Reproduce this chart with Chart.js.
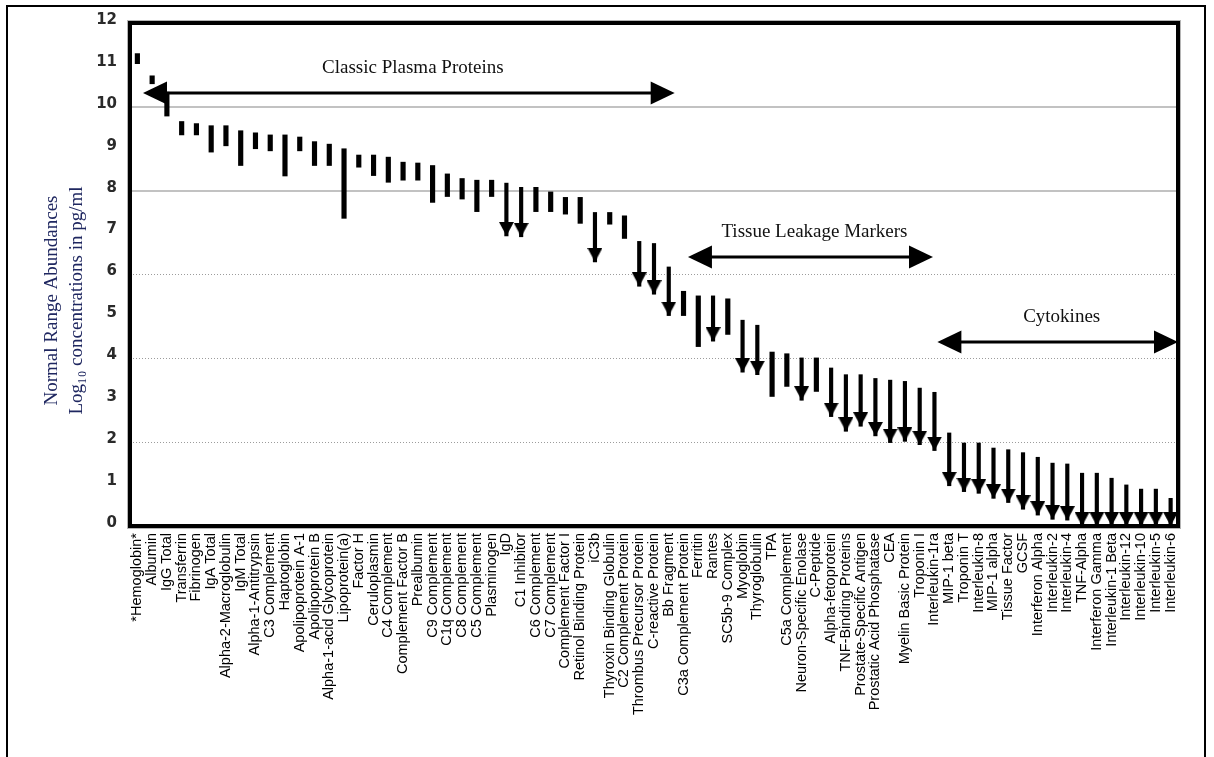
<!DOCTYPE html>
<html>
<head>
<meta charset="utf-8">
<title>Normal range abundances of plasma proteins</title>
<script src="https://cdn.jsdelivr.net/npm/chart.js@4.4.1/dist/chart.umd.min.js"></script>
<style>
  html, body { margin: 0; padding: 0; background: #fff; }
  #wrap { position: relative; width: 1214px; height: 757px; overflow: hidden; }
  #frame { position: absolute; left: 6px; top: 5px; width: 1200px; height: 770px;
           border: 2px solid #000; box-sizing: border-box; pointer-events: none; }
  canvas { display: block; }
</style>
</head>
<body>
<div id="wrap">
  <canvas id="chart" width="1214" height="757"></canvas>
  <div id="frame"></div>
</div>
<script>
// Analytes, ordered by decreasing normal-range abundance
const categories = [
  '*Hemoglobin*', 'Albumin', 'IgG Total', 'Transferrin', 'Fibrinogen', 'IgA Total',
  'Alpha-2-Macroglobulin', 'IgM Total', 'Alpha-1-Antitrypsin', 'C3 Complement', 'Haptoglobin',
  'Apolipoprotein A-1', 'Apolipoprotein B', 'Alpha-1-acid Glycoprotein', 'Lipoprotein(a)',
  'Factor H', 'Ceruloplasmin', 'C4 Complement', 'Complement Factor B', 'Prealbumin',
  'C9 Complement', 'C1q Complement', 'C8 Complement', 'C5 Complement', 'Plasminogen', 'IgD',
  'C1 Inhibitor', 'C6 Complement', 'C7 Complement', 'Complement Factor I',
  'Retinol Binding Protein', 'iC3b', 'Thyroxin Binding Globulin', 'C2 Complement Protein',
  'Thrombus Precursor Protein', 'C-reactive Protein', 'Bb Fragment', 'C3a Complement Protein',
  'Ferritin', 'Rantes', 'SC5b-9 Complex', 'Myoglobin', 'Thyroglobulin', 'TPA',
  'C5a Complement', 'Neuron-Specific Enolase', 'C-Peptide', 'Alpha-fetoprotein',
  'TNF-Binding Proteins', 'Prostate-Specific Antigen', 'Prostatic Acid Phosphatase', 'CEA',
  'Myelin Basic Protein', 'Troponin I', 'Interleukin-1ra', 'MIP-1 beta', 'Troponin T',
  'Interleukin-8', 'MIP-1 alpha', 'Tissue Factor', 'GCSF', 'Interferon Alpha',
  'Interleukin-2', 'Interleukin-4', 'TNF-Alpha', 'Interferon Gamma', 'Interleukin-1 Beta',
  'Interleukin-12', 'Interleukin-10', 'Interleukin-5', 'Interleukin-6'
];

// Upper end of the normal range, log10 pg/ml
const upper = [
  11.27, 10.74, 10.35, 9.65, 9.60, 9.55, 9.55, 9.43, 9.38, 9.33, 9.33,
  9.28, 9.17, 9.11, 9.00, 8.85, 8.85, 8.80, 8.68, 8.66,
  8.60, 8.40, 8.29, 8.25, 8.25, 8.18, 8.08, 8.08, 7.97, 7.84,
  7.84, 7.48, 7.48, 7.40, 6.79, 6.74, 6.18, 5.60,
  5.49, 5.49, 5.42, 4.91, 4.79, 4.15, 4.11, 4.01, 4.01, 3.77,
  3.61, 3.61, 3.52, 3.48, 3.45, 3.29, 3.19, 2.22, 1.98,
  1.98, 1.86, 1.82, 1.75, 1.64, 1.50, 1.48, 1.26, 1.26, 1.14,
  0.98, 0.88, 0.88, 0.66
];

// Lower end of the normal range, log10 pg/ml
const lower = [
  11.03, 10.55, 9.78, 9.33, 9.33, 8.92, 9.07, 8.60, 9.00, 8.95, 8.35,
  8.95, 8.60, 8.60, 7.34, 8.56, 8.36, 8.20, 8.25, 8.25,
  7.72, 7.86, 7.80, 7.50, 7.86, 6.92, 6.90, 7.50, 7.50, 7.44,
  7.22, 6.30, 7.20, 6.86, 5.72, 5.53, 5.02, 5.02,
  4.28, 4.41, 4.57, 3.67, 3.61, 3.09, 3.33, 3.00, 3.21, 2.61,
  2.26, 2.38, 2.15, 1.99, 2.02, 1.94, 1.80, 0.96, 0.82,
  0.78, 0.66, 0.56, 0.40, 0.26, 0.16, 0.14, 0.00, 0.00, 0.00,
  0.00, 0.00, 0.00, 0.00
];

// 1 = range continues below the lower value (drawn with a downward arrow)
const openBelow = [
  0, 0, 0, 0, 0, 0, 0, 0, 0, 0, 0,
  0, 0, 0, 0, 0, 0, 0, 0, 0,
  0, 0, 0, 0, 0, 1, 1, 0, 0, 0,
  0, 1, 0, 0, 1, 1, 1, 0,
  0, 1, 0, 1, 1, 0, 0, 1, 0, 1,
  1, 1, 1, 1, 1, 1, 1, 1, 1,
  1, 1, 1, 1, 1, 1, 1, 1, 1, 1,
  1, 1, 1, 1
];

// Analyte groups: span along the category axis and level of the bracket arrow
const groupNames = ['Classic Plasma Proteins', 'Tissue Leakage Markers', 'Cytokines'];
const groupStart = [0.38, 37.3, 54.2];
const groupEnd = [36.4, 53.9, 70.5];
const groupLevel = [10.33, 6.42, 4.39];

const yTitle = ['Normal Range Abundances', 'Log\u2081\u2080 concentrations in pg/ml'];

const closedRanges = categories.map((_, i) => openBelow[i] ? null : [lower[i], upper[i]]);
const openRanges = categories.map((_, i) => openBelow[i] ? [lower[i], upper[i]] : null);
const arrowTips = categories.map((_, i) => openBelow[i] ? lower[i] : null);

// Downward arrowhead whose tip sits at the centre of the image
function arrowHead(w, h) {
  const c = document.createElement('canvas');
  c.width = w;
  c.height = h * 2;
  const g = c.getContext('2d');
  g.fillStyle = '#000';
  g.beginPath();
  g.moveTo(0, 0);
  g.lineTo(w, 0);
  g.lineTo(w / 2, h);
  g.closePath();
  g.fill();
  return c;
}

const serif = '"Liberation Serif", "Times New Roman", serif';

const groupBrackets = {
  id: 'groupBrackets',
  afterDatasetsDraw(chart) {
    const { ctx, scales: { x, y } } = chart;
    const headLen = 24, headHalf = 11.5;
    ctx.save();
    groupNames.forEach((name, i) => {
      const x1 = x.getPixelForValue(groupStart[i]);
      const x2 = x.getPixelForValue(groupEnd[i]);
      const yy = y.getPixelForValue(groupLevel[i]);
      ctx.strokeStyle = '#000';
      ctx.fillStyle = '#000';
      ctx.lineWidth = 3;
      ctx.beginPath();
      ctx.moveTo(x1 + headLen - 2, yy);
      ctx.lineTo(x2 - headLen + 2, yy);
      ctx.stroke();
      ctx.beginPath();
      ctx.moveTo(x1, yy);
      ctx.lineTo(x1 + headLen, yy - headHalf);
      ctx.lineTo(x1 + headLen, yy + headHalf);
      ctx.closePath();
      ctx.fill();
      ctx.beginPath();
      ctx.moveTo(x2, yy);
      ctx.lineTo(x2 - headLen, yy - headHalf);
      ctx.lineTo(x2 - headLen, yy + headHalf);
      ctx.closePath();
      ctx.fill();
      ctx.font = '19px ' + serif;
      ctx.fillStyle = '#111';
      ctx.textAlign = 'center';
      ctx.textBaseline = 'middle';
      ctx.fillText(name, (x1 + x2) / 2 + 4, yy - 25);
    });
    ctx.restore();
  }
};

const plotFrame = {
  id: 'plotFrame',
  afterDraw(chart) {
    const { ctx, chartArea: a } = chart;
    ctx.save();
    ctx.strokeStyle = '#b5b5b5';
    ctx.lineWidth = 1;
    ctx.strokeRect(a.left - 2.5, a.top - 2.5, a.right - a.left + 5, a.bottom - a.top + 5);
    ctx.strokeStyle = '#000';
    ctx.lineWidth = 4;
    ctx.strokeRect(a.left, a.top, a.right - a.left, a.bottom - a.top);
    ctx.restore();
  }
};

const axisTitle = {
  id: 'axisTitle',
  afterDraw(chart) {
    const { ctx, chartArea: a } = chart;
    const cy = (a.top + a.bottom) / 2 + 26;
    ctx.save();
    ctx.fillStyle = '#1f2760';
    ctx.font = '19px ' + serif;
    ctx.textAlign = 'center';
    ctx.textBaseline = 'middle';
    [52, 77].forEach((cx, i) => {
      ctx.save();
      ctx.translate(cx, cy);
      ctx.rotate(-Math.PI / 2);
      ctx.fillText(yTitle[i], 0, 0);
      ctx.restore();
    });
    ctx.restore();
  }
};

new Chart(document.getElementById('chart'), {
  data: {
    labels: categories,
    datasets: [
      {
        type: 'bar',
        label: 'Normal range',
        data: closedRanges,
        backgroundColor: '#000',
        borderWidth: 0,
        borderSkipped: false,
        barThickness: 4.5,
        grouped: false
      },
      {
        type: 'bar',
        label: 'Normal range (open below)',
        data: openRanges,
        backgroundColor: '#000',
        borderWidth: 0,
        borderSkipped: false,
        barThickness: 3.5,
        grouped: false
      },
      {
        type: 'line',
        label: 'Lower limit arrow',
        data: arrowTips,
        showLine: false,
        pointStyle: arrowHead(15, 14),
        pointRadius: 8,
        pointHoverRadius: 8,
        clip: false
      }
    ]
  },
  options: {
    responsive: false,
    animation: false,
    events: [],
    layout: { padding: { top: 23, right: 36, bottom: 0, left: 0 } },
    plugins: { legend: { display: false }, tooltip: { enabled: false } },
    scales: {
      x: {
        type: 'category',
        offset: true,
        grid: { display: false, drawTicks: false },
        border: { display: false },
        ticks: {
          autoSkip: false,
          minRotation: 90,
          maxRotation: 90,
          padding: 7,
          color: '#000',
          font: { family: '"Liberation Sans", Arial, sans-serif', size: 14.5 }
        },
        afterFit(s) { s.height = 231; }
      },
      y: {
        position: 'left',
        min: 0,
        max: 12,
        ticks: {
          stepSize: 1,
          padding: 13,
          labelOffset: -3,
          color: '#2a2a2a',
          font: { family: '"DejaVu Sans", sans-serif', size: 15, weight: 'bold' }
        },
        grid: {
          drawTicks: false,
          lineWidth: 2,
          color: (c) => (c.tick && (c.tick.value === 8 || c.tick.value === 10)) ? '#c2c2c2' : 'rgba(0,0,0,0)'
        },
        border: { display: false },
        afterFit(s) { s.width = 130; }
      },
      yDots: {
        position: 'left',
        min: 0,
        max: 12,
        ticks: { display: false, stepSize: 1 },
        grid: {
          drawTicks: false,
          lineWidth: 1,
          borderDash: [1, 2],
          color: (c) => (c.tick && [2, 4, 6].includes(c.tick.value)) ? '#9c9c9c' : 'rgba(0,0,0,0)'
        },
        border: { display: false, dash: [1, 2] },
        afterFit(s) { s.width = 0; }
      }
    }
  },
  plugins: [groupBrackets, plotFrame, axisTitle]
});
</script>
</body>
</html>
